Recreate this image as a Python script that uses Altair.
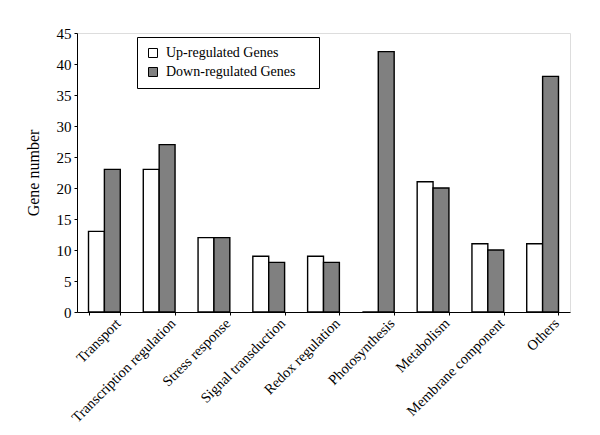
import altair as alt
import pandas as pd

categories = ["Transport", "Transcription regulation", "Stress response",
              "Signal transduction", "Redox regulation", "Photosynthesis",
              "Metabolism", "Membrane component", "Others"]
up_values = [13, 23, 12, 9, 9, 0, 21, 11, 11]
down_values = [23, 27, 12, 8, 8, 42, 20, 10, 38]
series = ["Up-regulated Genes", "Down-regulated Genes"]
y_ticks = [0, 5, 10, 15, 20, 25, 30, 35, 40, 45]

rows = []
for c, u, d in zip(categories, up_values, down_values):
    rows.append({"category": c, "series": series[0], "value": u})
    rows.append({"category": c, "series": series[1], "value": d})
df = pd.DataFrame(rows)

FONT = "Liberation Serif"

chart = alt.Chart(df).mark_bar(stroke="black", strokeWidth=1.4).encode(
    x=alt.X("category:N", sort=categories,
            scale=alt.Scale(paddingInner=0.42, paddingOuter=0.21),
            axis=alt.Axis(title=None, labelAngle=-45, labelAlign="right",
                          labelBaseline="middle", tickBand="extent",
                          labelFontSize=14.5, labelFont=FONT, labelColor="black",
                          labelLimit=300,
                          domainColor="black", tickColor="black", tickSize=3,
                          labelPadding=6, labelOffset=14)),
    xOffset=alt.XOffset("series:N", sort=series,
                        scale=alt.Scale(paddingInner=0, paddingOuter=0)),
    y=alt.Y("value:Q", scale=alt.Scale(domain=[0, 45], nice=False),
            axis=alt.Axis(title="Gene number", values=y_ticks, grid=False,
                          titleFont=FONT, titleFontSize=16, titleFontWeight="normal",
                          titleColor="black", titlePadding=15,
                          labelFont=FONT, labelFontSize=15, labelColor="black",
                          labelPadding=3,
                          domainColor="black", tickColor="black", tickSize=3)),
    color=alt.Color("series:N", sort=series,
                    scale=alt.Scale(domain=series, range=["white", "#808080"]),
                    legend=alt.Legend(title=None, orient="none", legendX=60, legendY=4,
                                      strokeColor="black", padding=9,
                                      symbolType="square", symbolSize=81,
                                      symbolStrokeColor="black", symbolStrokeWidth=1,
                                      labelFont=FONT, labelFontSize=14,
                                      labelColor="black", rowPadding=5,
                                      labelOffset=6, labelLimit=300,
                                      labelExpr="datum.label + '\u2003\u200b'")),
).properties(
    width=493, height=279,
    autosize=alt.AutoSizeParams(type="none"),
    padding={"left": 69, "top": 25, "right": 14, "bottom": 110},
).configure_view(stroke=None).configure(background="white")

chart.save("out.html", embed_options={"renderer": "svg", "actions": False})
